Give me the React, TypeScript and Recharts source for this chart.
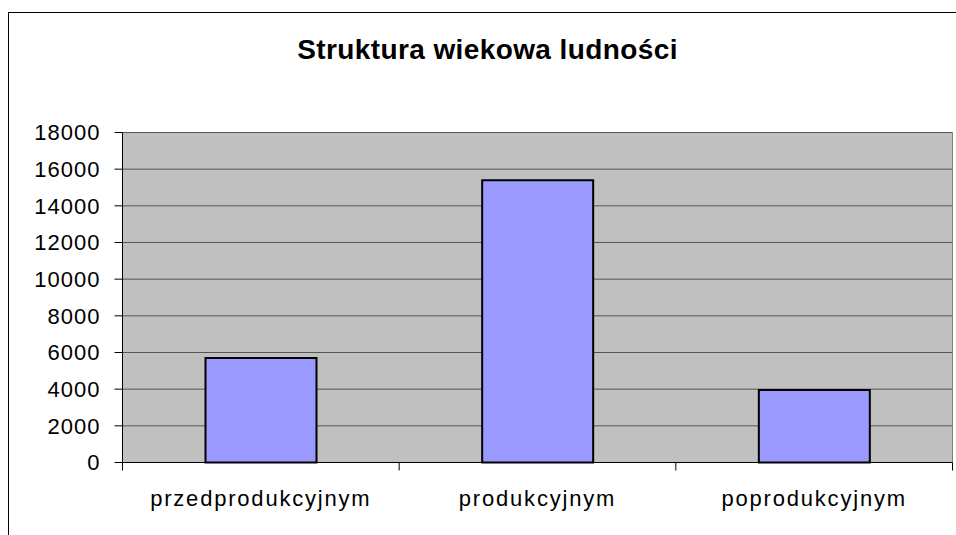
import React from 'react';
import { BarChart, Bar, XAxis, YAxis, CartesianGrid } from 'recharts';

const categories = ['przedprodukcyjnym', 'produkcyjnym', 'poprodukcyjnym'];
const population = [5700, 15400, 3950];
const yTicks = [0, 2000, 4000, 6000, 8000, 10000, 12000, 14000, 16000, 18000];

const data = categories.map((name, i) => ({ name, value: population[i] }));

const FONT = '"Liberation Sans", Arial, sans-serif';
const TICK_SIZE = 8;
const TICK_MARGIN = 20;

// Excel-style category ticks: lines sit on the category boundaries, labels in the middle
const CategoryTick = (props: any) => {
  const { x, y, payload, index, width } = props;
  const half = payload.offset || width / categories.length / 2;
  const axisY = y - TICK_SIZE - TICK_MARGIN;
  return (
    <g>
      <line x1={x - half} x2={x - half} y1={axisY} y2={axisY + TICK_SIZE} stroke="#000" />
      {index === categories.length - 1 && (
        <line x1={x + half} x2={x + half} y1={axisY} y2={axisY + TICK_SIZE} stroke="#000" />
      )}
      <text
        x={x}
        y={y}
        dy="0.71em"
        textAnchor="middle"
        fill="#000"
        fontSize={22}
        letterSpacing={1.8}
        fontFamily={FONT}
      >
        {payload.value}
      </text>
    </g>
  );
};

export default function App() {
  return (
    <div style={{ position: 'fixed', inset: 0, overflow: 'hidden', background: '#fff' }}>
      <div
        style={{
          position: 'absolute',
          left: 8,
          top: 12,
          width: 1000,
          height: 600,
          border: '1px solid #000',
        }}
      />
      <div
        style={{
          position: 'absolute',
          left: 0,
          top: 35.6,
          width: 975,
          textAlign: 'center',
          fontFamily: FONT,
          fontWeight: 'bold',
          fontSize: 28,
          lineHeight: '28px',
          letterSpacing: 0.4,
          color: '#000',
        }}
      >
        Struktura wiekowa ludności
      </div>
      <div style={{ position: 'absolute', left: 0, top: 0 }}>
        <BarChart
          width={956}
          height={535}
          data={data}
          barCategoryGap="30%"
          margin={{ top: 132.5, right: 1.5, bottom: 12.5, left: 0.5 }}
        >
          <CartesianGrid vertical={false} stroke="#555" fill="#c0c0c0" fillOpacity={1} />
          <XAxis
            dataKey="name"
            height={60}
            axisLine={{ stroke: '#000' }}
            tickLine={false}
            tickSize={TICK_SIZE}
            tickMargin={TICK_MARGIN}
            interval={0}
            tick={<CategoryTick />}
          />
          <YAxis
            width={122}
            domain={[0, 18000]}
            ticks={yTicks}
            interval={0}
            axisLine={{ stroke: '#000' }}
            tickLine={{ stroke: '#000' }}
            tickSize={TICK_SIZE}
            tickMargin={14}
            tick={{ fill: '#000', fontSize: 22, fontFamily: FONT, letterSpacing: 1 }}
          />
          <YAxis
            yAxisId="right"
            orientation="right"
            width={2}
            domain={[0, 18000]}
            tick={false}
            tickLine={false}
            axisLine={{ stroke: '#808080' }}
          />
          <Bar
            dataKey="value"
            fill="#9999ff"
            stroke="#000"
            strokeWidth={2}
            isAnimationActive={false}
          />
        </BarChart>
      </div>
    </div>
  );
}
